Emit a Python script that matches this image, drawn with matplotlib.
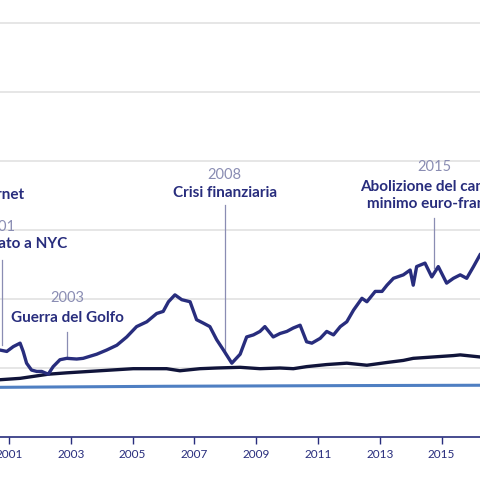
import matplotlib
matplotlib.use("Agg")
import matplotlib.pyplot as plt

# chart values (years, index levels where one gridline step = 1)
navy_years = [2000.71, 2000.93, 2001.14, 2001.36, 2001.46, 2001.57, 2001.73, 2001.90, 2002.06,
              2002.27, 2002.43, 2002.65, 2002.87, 2003.19, 2003.40, 2003.84, 2004.16, 2004.49,
              2004.81, 2005.13, 2005.46, 2005.78, 2005.99, 2006.16, 2006.37, 2006.59, 2006.86,
              2007.07, 2007.29, 2007.50, 2007.72, 2007.94, 2008.21, 2008.48, 2008.69, 2008.91,
              2009.12, 2009.28, 2009.55, 2009.77, 2009.99, 2010.20, 2010.42, 2010.63, 2010.80,
              2011.07, 2011.28, 2011.50, 2011.72, 2011.93, 2012.15, 2012.42, 2012.58, 2012.85,
              2013.07, 2013.23, 2013.44, 2013.76, 2013.98, 2014.08, 2014.19, 2014.46, 2014.68,
              2014.89, 2015.16, 2015.38, 2015.60, 2015.81, 2016.03, 2016.24]
navy_vals = [1.26, 1.24, 1.31, 1.36, 1.24, 1.07, 0.97, 0.95, 0.95,
             0.91, 1.02, 1.12, 1.14, 1.13, 1.14, 1.20, 1.26, 1.33,
             1.45, 1.60, 1.67, 1.79, 1.82, 1.96, 2.06, 1.99, 1.96,
             1.70, 1.65, 1.60, 1.41, 1.26, 1.07, 1.20, 1.45, 1.48,
             1.53, 1.60, 1.45, 1.50, 1.53, 1.58, 1.62, 1.38, 1.36,
             1.43, 1.53, 1.48, 1.60, 1.67, 1.84, 2.01, 1.96, 2.11,
             2.11, 2.20, 2.30, 2.35, 2.42, 2.20, 2.47, 2.52, 2.32,
             2.47, 2.23, 2.30, 2.35, 2.30, 2.47, 2.64]

black_years = [2000.71, 2001.36, 2002.27, 2002.87, 2003.94, 2005.02, 2006.10, 2006.53, 2007.18,
               2007.72, 2008.48, 2009.12, 2009.77, 2010.20, 2010.63, 2011.28, 2011.93, 2012.58,
               2013.23, 2013.76, 2014.08, 2014.73, 2015.38, 2015.60, 2016.24]
black_vals = [0.83, 0.85, 0.91, 0.93, 0.96, 0.99, 0.99, 0.96, 0.99,
              1.00, 1.01, 0.99, 1.00, 0.99, 1.02, 1.05, 1.07, 1.04,
              1.08, 1.11, 1.14, 1.16, 1.18, 1.19, 1.16]

blue_years = [2000.71, 2006.0, 2012.0, 2016.24]
blue_vals = [0.72, 0.735, 0.745, 0.75]

navy_c = "#282d7d"
black_c = "#10143a"
blue_c = "#4f7fc2"
gray_c = "#8a8db3"
grid_c = "#e2e2e2"

fig = plt.figure(figsize=(4.8, 4.8), dpi=100)
ax = fig.add_axes([0, 43 / 480, 1, 437 / 480])
ax.set_xlim(2000.71, 2016.24)
ax.set_ylim(0, 437 / 69)

for lvl in range(1, 7):
    ax.axhline(lvl, color=grid_c, lw=1.2, zorder=0)

ax.plot(blue_years, blue_vals, color=blue_c, lw=2.2, zorder=3)
ax.plot(black_years, black_vals, color=black_c, lw=2.4, zorder=3)
ax.plot(navy_years, navy_vals, color=navy_c, lw=2.4, zorder=4)

for s in ["top", "right", "left"]:
    ax.spines[s].set_visible(False)
ax.spines["bottom"].set_color(navy_c)
ax.spines["bottom"].set_linewidth(1.2)
ax.set_yticks([])
ax.set_xticks(range(2001, 2017, 2))
ax.tick_params(axis="x", colors=navy_c, length=5, width=1, labelsize=8.5, pad=4)
for lab in ax.get_xticklabels():
    lab.set_family("Lato")

bold = dict(color=navy_c, fontsize=11, fontweight="bold", family="Lato")
light = dict(color=gray_c, fontsize=10.5, family="Lato")


def note(x, yr, txt, ylab, ytxt, ltop, lbot, ha="center"):
    ax.text(x, ylab, yr, ha=ha, va="center", **light)
    ax.text(x, ytxt, txt, ha=ha, va="center", linespacing=1.25, **bold)
    ax.plot([x, x], [ltop, lbot], color=gray_c, lw=0.9, zorder=2)


ax.text(2001.50, 3.50, "Bolla di Internet", ha="right", va="center", **bold)
ax.text(2001.20, 3.05, "2001", ha="right", va="center", **light)
ax.text(2002.88, 2.79, "Attentato a NYC", ha="right", va="center", **bold)
ax.plot([2000.79, 2000.79], [2.56, 1.33], color=gray_c, lw=0.9, zorder=2)

note(2002.89, "2003", "Guerra del Golfo", 2.020, 1.725, 1.52, 1.16)
note(2007.98, "2008", "Crisi finanziaria", 3.80, 3.53, 3.36, 1.20)
note(2014.76, "2015", "Abolizione del cambio\nminimo euro-franco", 3.91, 3.50, 3.18, 2.45)

fig.savefig("out.png", dpi=100)
